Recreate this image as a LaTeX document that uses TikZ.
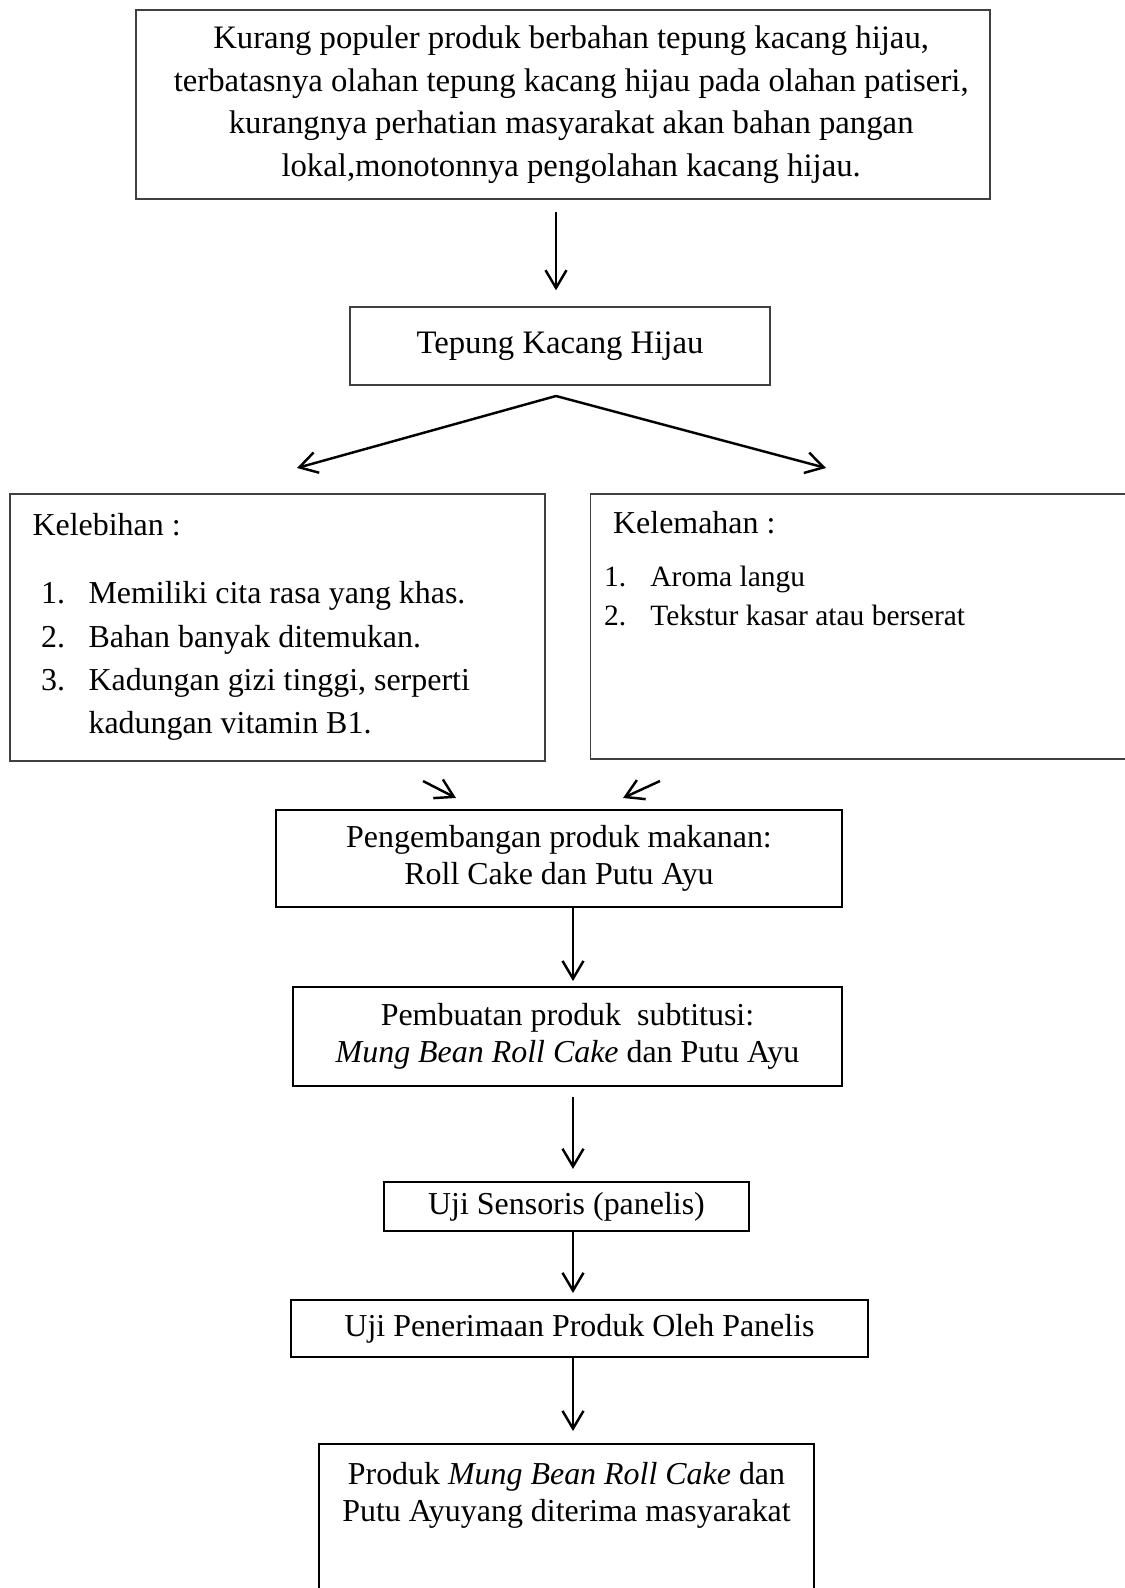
\documentclass[tikz,border=0pt]{standalone}
\usepackage{fontspec}
\setmainfont{Liberation Serif}
\usepackage{tikz}
\usetikzlibrary{arrows.meta}

\begin{document}
\begin{tikzpicture}[x=0.3664pt,y=-0.3664pt]
			\useasboundingbox (0,0) rectangle (1125,1588);

			\begin{scope}[every node/.style={rectangle,draw=black!75,line width=0.4pt,inner sep=0pt,align=center,font=\fontsize{12}{15.6}\selectfont}]
			    \node[minimum width=312.9pt,minimum height=69.25pt] (masalah) at (563,104.5) {\hspace*{6pt}Kurang populer produk berbahan tepung kacang hijau,\\ \hspace*{6pt}terbatasnya olahan tepung kacang hijau pada olahan patiseri,\\ \hspace*{6pt}kurangnya perhatian masyarakat akan bahan pangan\\ \hspace*{6pt}lokal,monotonnya pengolahan kacang hijau.};
			    \node[minimum width=153.9pt,minimum height=28.6pt] (tepung) at (560,346) {Tepung Kacang Hijau};
			    \node[minimum width=196pt,minimum height=97.8pt] (lebih) at (277.5,627.5) {};
			    \node[minimum width=201.2pt,minimum height=97.1pt] (lemah) at (865.5,626.5) {};
			\end{scope}

			\begin{scope}[every node/.style={rectangle,draw,line width=0.75pt,inner sep=0pt,align=center,font=\fontsize{11.7}{13.5}\selectfont}]
			    \node[minimum width=207.4pt,minimum height=35.5pt] (kembang) at (559,858.5) {Pengembangan produk makanan:\\ Roll Cake dan Putu Ayu};
			    \node[minimum width=201.2pt,minimum height=36.3pt] (buat) at (567.5,1036.5) {Pembuatan produk\ \ subtitusi:\\ \textit{Mung Bean Roll Cake} dan Putu Ayu};
			    \node[minimum width=133.7pt,minimum height=18pt] (sensoris) at (566.5,1206.5) {Uji Sensoris (panelis)};
			    \node[minimum width=211.4pt,minimum height=20.9pt] (terima) at (579.5,1328.5) {Uji Penerimaan Produk Oleh Panelis};
			    \node[minimum width=181.4pt,minimum height=60.8pt] (produk) at (566.5,1527) {};
			\end{scope}

			\begin{scope}[every node/.style={inner sep=0pt,align=left}]
			    \node[anchor=north west,font=\fontsize{11.7}{15.6}\selectfont] (lebihJudul) at (32,513) {Kelebihan :};
			    \node[anchor=north west,font=\fontsize{11.7}{15.9}\selectfont] (lebihIsi) at (40.5,581) {\makebox[17.4pt][l]{1.}Memiliki cita rasa yang khas.\\ \makebox[17.4pt][l]{2.}Bahan banyak ditemukan.\\ \makebox[17.4pt][l]{3.}Kadungan gizi tinggi, serperti\\ \hspace*{17.4pt}kadungan vitamin B1.};
			    \node[anchor=north west,font=\fontsize{11.7}{15.6}\selectfont] (lemahJudul) at (612.6,511) {Kelemahan :};
			    \node[anchor=north west,font=\fontsize{10.8}{14.15}\selectfont] (lemahIsi) at (603.5,565.5) {\makebox[17pt][l]{1.}Aroma langu\\ \makebox[17pt][l]{2.}Tekstur kasar atau berserat};
			    \node[align=center,font=\fontsize{11.7}{13.5}\selectfont] (produkIsi) at (566.5,1495) {Produk \textit{Mung Bean Roll Cake} dan\\ Putu Ayuyang diterima masyarakat};
			\end{scope}

			\coordinate (spine) at (573,0);
			\coordinate (cabang) at (556,396);
			\coordinate (kiri) at (297,468);
			\coordinate (kanan) at (826,468);
			\coordinate (masukKiriA) at (423,781);
			\coordinate (masukKiriB) at (456,798);
			\coordinate (masukKananA) at (660,781);
			\coordinate (masukKananB) at (623,798);

			\begin{scope}[>={Straight Barb[length=6.5pt,width=7.7pt]},
			              every edge/.style={draw=black,line width=0.9pt}]
			    \path [->,shorten <=4.4pt,shorten >=5.9pt] (masalah.south -| cabang) edge (tepung.north -| cabang);
			    \path [->] (cabang) edge (kiri) (cabang) edge (kanan);
			    \path [->] (masukKiriA) edge (masukKiriB) (masukKananA) edge (masukKananB);
			    \path [->,shorten >=1.8pt] (kembang.south -| spine) edge (buat.north -| spine);
			    \path [->,shorten <=3.7pt,shorten >=4.4pt] (buat.south -| spine) edge (sensoris.north -| spine);
			    \path [->,shorten >=2.2pt] (sensoris.south -| spine) edge (terima.north -| spine);
			    \path [->,shorten >=4.4pt] (terima.south -| spine) edge (produk.north -| spine);
			\end{scope}
\end{tikzpicture}
\end{document}
